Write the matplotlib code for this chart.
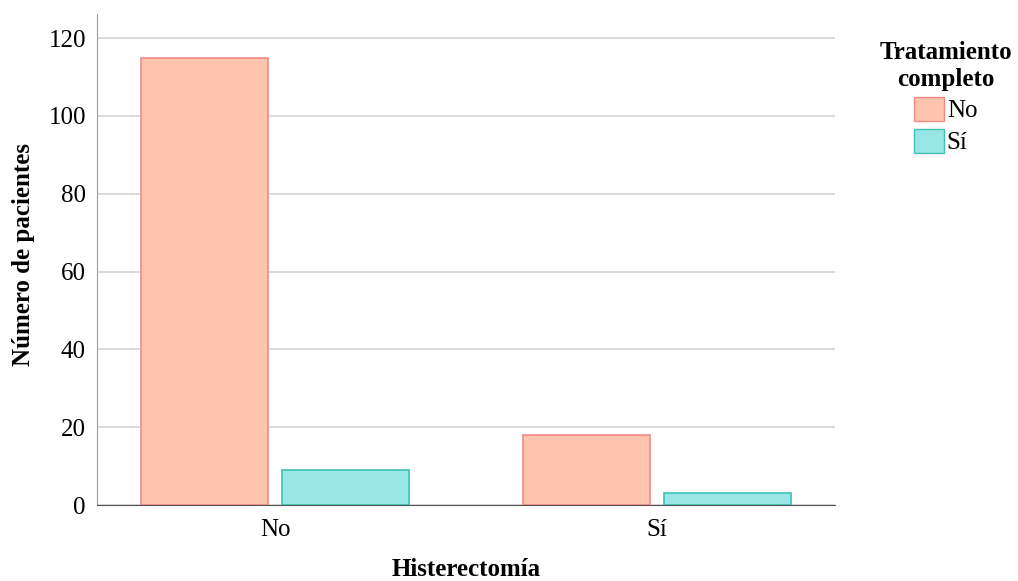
import matplotlib
matplotlib.use("Agg")
from matplotlib import pyplot as plt
from matplotlib.patches import Patch
import numpy as np

categories = ["No", "Sí"]
series_names = ["No", "Sí"]
vals_no = [115, 18]
vals_si = [9, 3]

plt.rcParams['font.family'] = ['Liberation Serif', 'DejaVu Serif']

fill_cols = ["#ffc4ae", "#98e6e6"]
edge_cols = ["#f28b86", "#3fc1b3"]

fig = plt.figure(figsize=(10.18, 5.81), dpi=100)
ax = fig.add_axes([0.0953, 0.1308, 0.7249, 0.8452])

x = np.arange(len(categories))
w = 0.333
off = 0.1846
# bars below the spines so the axis line sits on top like the original
ax.bar(x - off, vals_no, w, color=fill_cols[0], edgecolor=edge_cols[0], linewidth=1.2, zorder=1)
ax.bar(x + off, vals_si, w, color=fill_cols[1], edgecolor=edge_cols[1], linewidth=1.2, zorder=1)

ax.set_xlim(-0.466, 1.466)
ax.set_ylim(0, 126.2)
ax.set_yticks(np.arange(0, 121, 20))
ax.set_xticks(x)
ax.set_xticklabels(categories)
ax.yaxis.grid(True, color="#d4d4d4", linewidth=1.2)
ax.set_axisbelow(True)
for s in ["top", "right"]:
    ax.spines[s].set_visible(False)
ax.spines["left"].set_color("#a0a0a0")
ax.spines["bottom"].set_color("#555555")
ax.spines["bottom"].set_zorder(3)
ax.tick_params(axis="y", length=0, labelsize=18, pad=8)
ax.tick_params(axis="x", length=0, labelsize=18, pad=10)

ax.set_ylabel("Número de pacientes", fontsize=18, fontweight="bold")
ax.yaxis.set_label_coords(-0.084, 0.51)
ax.set_xlabel("Histerectomía", fontsize=18, fontweight="bold", labelpad=12)

handles = [Patch(facecolor=fill_cols[i], edgecolor=edge_cols[i], label=series_names[i]) for i in range(2)]
leg = fig.legend(handles=handles, title="Tratamiento\ncompleto", loc="upper center",
                 bbox_to_anchor=(0.929, 0.968), frameon=False, fontsize=18,
                 title_fontproperties={"weight": "bold", "size": 18},
                 handlelength=1.2, handleheight=1.1, handletextpad=0.1, labelspacing=0.25)
leg._legend_box.align = "center"
leg.get_title().set_multialignment("center")

fig.savefig("out.png", dpi=100)
